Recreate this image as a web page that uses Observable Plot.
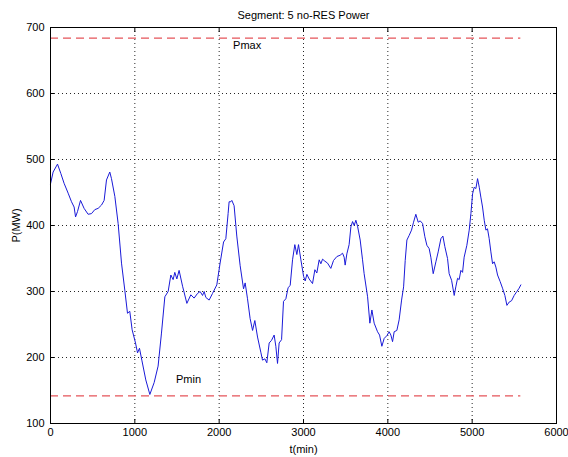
<!DOCTYPE html>
<html>
<head>
<meta charset="utf-8">
<script src="https://cdn.jsdelivr.net/npm/d3@7"></script>
<script src="https://cdn.jsdelivr.net/npm/@observablehq/plot@0.6"></script>
<style>
  body { margin: 0; background: #fff; }
  svg { font-family: "Liberation Sans", Arial, sans-serif; }
</style>
</head>
<body>
<div id="chart"></div>
<script>
const title = "Segment: 5 no-RES Power";
const xLabel = "t(min)";
const yLabel = "P(MW)";
const xTicks = [0, 1000, 2000, 3000, 4000, 5000, 6000];
const yTicks = [100, 200, 300, 400, 500, 600, 700];

const timeMin = [0,31,83,122,161,209,249,280,297,320,356,398,446,486,525,565,605,636,664,703,723,763,802,842,881,913,940,968,1008,1032,1055,1083,1130,1178,1229,1276,1316,1356,1395,1427,1454,1474,1498,1525,1566,1617,1664,1703,1743,1774,1803,1822,1842,1881,1921,1972,2011,2052,2079,2106,2118,2138,2150,2177,2209,2249,2289,2308,2336,2367,2396,2423,2455,2494,2514,2542,2565,2593,2621,2652,2672,2692,2711,2740,2763,2791,2818,2842,2870,2897,2921,2941,2969,3001,3020,3040,3067,3107,3135,3158,3186,3206,3226,3253,3285,3324,3356,3396,3435,3463,3482,3494,3514,3541,3562,3582,3601,3621,3641,3672,3700,3719,3760,3787,3811,3838,3878,3902,3929,3957,3988,4016,4036,4056,4075,4107,4134,4163,4187,4206,4226,4253,4281,4305,4332,4360,4384,4412,4439,4463,4490,4510,4538,4570,4597,4629,4653,4676,4708,4727,4756,4787,4806,4827,4846,4866,4886,4905,4937,4965,4985,5005,5024,5044,5064,5084,5103,5123,5143,5163,5182,5202,5222,5242,5261,5281,5301,5332,5360,5388,5412,5439,5467,5498,5530,5557,5577];
const powerMW = [463,481,493,479,464,449,436,428,413,421,438,426,417,418,424,426,431,438,469,481,471,444,403,343,302,267,270,242,222,207,214,196,166,144,162,187,237,292,300,325,318,329,319,332,308,282,295,290,297,300,294,300,291,287,297,310,343,375,380,418,436,436,438,430,384,339,304,313,289,259,241,256,231,208,196,198,192,222,226,234,217,191,222,227,285,289,306,309,348,371,356,371,348,323,316,326,319,312,333,328,348,342,349,346,343,335,347,353,355,358,352,340,357,371,398,406,400,408,399,378,348,327,292,252,272,252,239,234,217,229,233,239,234,224,239,241,257,287,307,347,378,385,393,405,417,405,407,403,383,370,365,352,327,345,360,380,384,368,350,327,317,294,307,320,318,332,329,352,370,393,418,448,458,456,471,458,443,428,408,393,395,380,360,342,345,337,325,315,305,294,279,284,286,294,300,305,310];

const limitNames = ["Pmax", "Pmin"];
const limitValues = [684, 142];
const limitSpan = [0, 5577];
const limitLabelT = [2165, 1488];
const limitLabelP = [673, 167];

const series = timeMin.map((t, i) => ({t, p: powerMW[i]}));
const limitSegs = limitValues.map((v, i) => ({x1: limitSpan[0], x2: limitSpan[1], y: v, name: limitNames[i]}));
const limitLabels = limitNames.map((n, i) => ({t: limitLabelT[i], p: limitLabelP[i], name: n}));
const plain = d => String(d);

const chart = Plot.plot({
  width: 568,
  height: 457,
  marginLeft: 50,
  marginRight: 12,
  marginTop: 27,
  marginBottom: 34,
  style: {fontSize: "11px", fontFamily: "Liberation Sans, Arial, sans-serif", color: "#000", background: "#fff"},
  x: {domain: [0, 6000]},
  y: {domain: [100, 700]},
  marks: [
    Plot.gridX(xTicks, {stroke: "#000", strokeOpacity: 0.85, strokeDasharray: "1,3"}),
    Plot.gridY(yTicks, {stroke: "#000", strokeOpacity: 0.85, strokeDasharray: "1,3"}),
    Plot.axisX(xTicks, {anchor: "bottom", tickSize: 0, tickPadding: 5, tickFormat: plain, label: xLabel, labelAnchor: "center", labelArrow: "none", labelOffset: 29, fill: "#000"}),
    Plot.axisY(yTicks, {anchor: "left", tickSize: 0, tickPadding: 6, tickFormat: plain, label: yLabel, labelAnchor: "center", labelArrow: "none", labelOffset: 38, fill: "#000"}),
    Plot.axisX(xTicks, {anchor: "bottom", tickSize: -4, text: null, label: null, stroke: "#000"}),
    Plot.axisX(xTicks, {anchor: "top", tickSize: -4, text: null, label: null, stroke: "#000"}),
    Plot.axisY(yTicks, {anchor: "left", tickSize: -4, text: null, label: null, stroke: "#000"}),
    Plot.axisY(yTicks, {anchor: "right", tickSize: -4, text: null, label: null, stroke: "#000"}),
    Plot.ruleY(limitSegs, {y: "y", x1: "x1", x2: "x2", stroke: "#e5545a", strokeWidth: 1.3, strokeDasharray: "8,5"}),
    Plot.line(series, {x: "t", y: "p", stroke: "#1a1ad8", strokeWidth: 1}),
    Plot.text(limitLabels, {x: "t", y: "p", text: "name", textAnchor: "start", fill: "#000", fontSize: 11}),
    Plot.frame({stroke: "#000", strokeWidth: 1}),
    Plot.text([title], {frameAnchor: "top", dy: -16, fill: "#000", fontSize: 11})
  ]
});
document.getElementById("chart").appendChild(chart);
</script>
</body>
</html>
